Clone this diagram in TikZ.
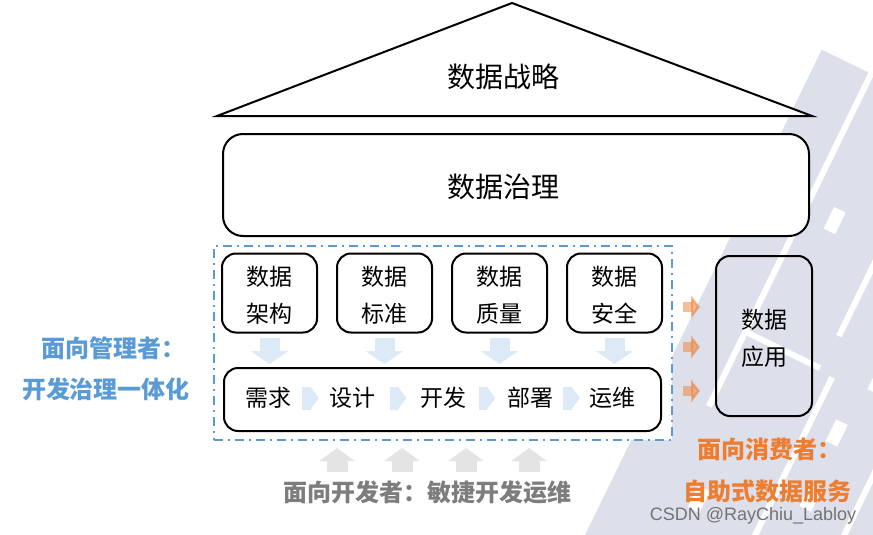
\documentclass[tikz,border=0pt]{standalone}
\usepackage{fontspec}
\newfontfamily\cjk{Noto Sans CJK SC}
\newfontfamily\wmfont{Liberation Sans}
\usetikzlibrary{matrix,arrows.meta}

\definecolor{mgrblue}{RGB}{91,155,213}
\definecolor{flowblue}{RGB}{220,233,246}
\definecolor{userorange}{RGB}{237,125,49}
\definecolor{devgrey}{RGB}{125,125,125}
\definecolor{liftgrey}{RGB}{228,228,228}
\definecolor{mazegrey}{RGB}{221,224,234}

\newcommand{\twoln}[2]{\begin{tabular}{@{}c@{}}\rule{0pt}{30pt}#1\\[9pt]#2\end{tabular}}

\tikzset{
  box/.style={draw, line width=2pt, rounded corners=14pt, fill=white, inner sep=0pt},
  txt/.style={font=\cjk\fontsize{23}{28}\selectfont},
  big/.style={font=\cjk\fontsize{28}{34}\selectfont},
  lbl/.style={font=\cjk\bfseries\fontsize{24}{28}\selectfont},
  dnarr/.style={flowblue, line width=20pt, -{Triangle[width=37pt,length=13pt]}, shorten <=4pt, shorten >=3pt},
  chev/.style={flowblue, line width=23pt, -{Triangle[width=23pt,length=9pt]}},
  uparr/.style={liftgrey, line width=21pt, -{Triangle[width=35pt,length=13pt]}},
  usearr/.style={userorange, opacity=.5, line width=10pt, -{Triangle[width=23pt,length=9pt]}}
}

\begin{document}
\begin{tikzpicture}[x=1pt,y=-1pt]
\useasboundingbox (0,0) rectangle (873,535);

% faint maze in the back
\begin{scope}
  \clip (560,0) rectangle (873,535);
  \begin{scope}[shift={(585,535)}, rotate=64]
    \fill[mazegrey] (0,0) rectangle (540,360);
    \fill[white] (170,52) rectangle (540,58);
    \fill[white] (0,150) rectangle (250,156);
    \fill[white] (290,138) rectangle (540,144);
    \fill[white] (60,230) rectangle (400,236);
    \fill[white] (250,58) rectangle (256,138);
    \fill[white] (190,175) rectangle (214,188);
    \fill[white] (255,190) rectangle (279,203);
    \fill[white] (120,180) rectangle (144,193);
    \fill[white] (330,170) rectangle (354,183);
    \fill[white] (150,270) rectangle (174,283);
    \fill[white] (70,80) rectangle (94,93);
    \fill[white] (380,80) rectangle (404,93);
  \end{scope}
\end{scope}

% top: strategy and governance
\draw[line width=2pt, fill=white] (217,116) -- (512,3) -- (812,116) -- cycle;
\node[big] (strat) at (503,77) {数据战略};
\node[box, rounded corners=20pt, minimum width=586, minimum height=102] (gov) at (516,185) {};
\node[big] (govlbl) at (503,187) {数据治理};

% management frame
\node[draw=mgrblue, line width=2pt, dash pattern=on 9pt off 5pt on 2pt off 5pt,
      fill=white, minimum width=458, minimum height=194] (mgt) at (442.5,343) {};

\matrix (dm) [matrix of nodes, nodes={box, txt, minimum width=95, minimum height=79},
              column sep=18pt] at (442,293)
{
\twoln{数据}{架构} & \twoln{数据}{标准} & \twoln{数据}{质量} & \twoln{数据}{安全} \\
};

\node[box, minimum width=437, minimum height=63] (proc) at (442.5,399.5) {};
\foreach \t/\x [count=\i] in {需求/268, 设计/352, 开发/443, 部署/530, 运维/612}
  \node[txt] (s\i) at (\x,398) {\t};
\foreach \i/\j in {1/2, 2/3, 3/4, 4/5}
  \path (s\i) -- coordinate[midway] (c\i) (s\j);
\foreach \i in {1,...,4}
  \draw[chev] ([xshift=-8pt]c\i) -- ([xshift=9pt]c\i);
\foreach \i in {1,...,4}
  \draw[dnarr] (dm-1-\i.south) -- (dm-1-\i.south |- proc.north);

% consumers
\node[box, fill=none, txt, minimum width=96, minimum height=160] (app) at (764,336) {\twoln{数据}{应用}};
\foreach \y in {307,347,391}
  \draw[usearr] (683,\y) -- (700,\y);

% developers
\foreach \x in {337,402,466,529}
  \draw[uparr] (\x,472) -- (\x,448);

% side labels
\node[lbl, mgrblue, anchor=west] (mgr1) at (38,348) {面向管理者：};
\node[lbl, mgrblue] (mgr2) at (106,389) {开发治理一体化};
\node[lbl, devgrey, anchor=west] (dev1) at (280,492) {面向开发者：敏捷开发运维};
\node[lbl, userorange, anchor=west] (use1) at (694,449) {面向消费者：};
\node[lbl, userorange] (use2) at (767,491) {自助式数据服务};

\node[font=\wmfont\fontsize{18}{21}\selectfont, text=black!55] (wm) at (753,516) {CSDN @RayChiu\_Labloy};
\end{tikzpicture}
\end{document}
